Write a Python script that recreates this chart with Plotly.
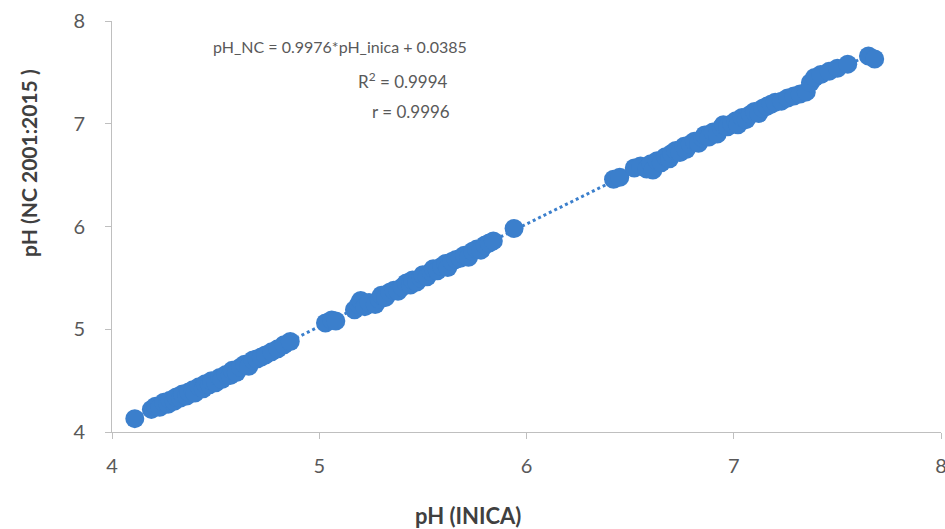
import plotly.graph_objects as go

# pH measured with the INICA method vs the NC 2001:2015 method
ph_inica = [
    4.11, 4.19, 4.21, 4.23, 4.25, 4.27, 4.28, 4.30, 4.31, 4.33, 4.34, 4.36, 4.37, 4.39, 4.40,
    4.42, 4.44, 4.45, 4.47, 4.48, 4.50, 4.52, 4.53, 4.55, 4.57, 4.58, 4.60, 4.62, 4.64, 4.66,
    4.68, 4.70, 4.72, 4.74, 4.77, 4.80, 4.83, 4.86,
    5.03, 5.06, 5.08,
    5.17, 5.19, 5.20, 5.22, 5.24, 5.27, 5.29, 5.30, 5.32, 5.34, 5.36, 5.38, 5.40, 5.42, 5.44,
    5.45, 5.47, 5.49, 5.50, 5.52, 5.54, 5.55, 5.57, 5.59, 5.61, 5.62, 5.64, 5.66, 5.68, 5.70,
    5.72, 5.74, 5.76, 5.78, 5.80, 5.82, 5.84,
    5.94,
    6.42, 6.45,
    6.52, 6.55, 6.58, 6.60, 6.61, 6.63, 6.65, 6.67, 6.69, 6.70, 6.72, 6.74, 6.76, 6.77, 6.79,
    6.81, 6.83, 6.85, 6.86, 6.88, 6.90, 6.92, 6.94, 6.95, 6.97, 6.99, 7.01, 7.02, 7.04, 7.06,
    7.08, 7.10, 7.12, 7.14, 7.16, 7.18, 7.20, 7.23, 7.26, 7.29, 7.32, 7.35, 7.37, 7.39, 7.42,
    7.46, 7.50, 7.55,
    7.65, 7.68,
]
ph_nc = [
    4.13, 4.22, 4.25, 4.24, 4.29, 4.27, 4.31, 4.30, 4.34, 4.33, 4.37, 4.35, 4.39, 4.41, 4.38,
    4.44, 4.42, 4.47, 4.46, 4.50, 4.48, 4.53, 4.51, 4.56, 4.55, 4.60, 4.58, 4.63, 4.66, 4.64,
    4.70, 4.71, 4.73, 4.75, 4.78, 4.81, 4.85, 4.88,
    5.06, 5.09, 5.08,
    5.19, 5.24, 5.28, 5.22, 5.26, 5.24, 5.29, 5.33, 5.31, 5.36, 5.38, 5.37, 5.41, 5.45, 5.43,
    5.48, 5.46, 5.50, 5.53, 5.51, 5.56, 5.59, 5.57, 5.61, 5.64, 5.60, 5.66, 5.68, 5.69, 5.72,
    5.70, 5.76, 5.78, 5.77, 5.82, 5.84, 5.86,
    5.98,
    6.46, 6.48,
    6.57, 6.59, 6.56, 6.61, 6.55, 6.64, 6.62, 6.68, 6.66, 6.71, 6.74, 6.72, 6.78, 6.75, 6.80,
    6.83, 6.81, 6.86, 6.89, 6.87, 6.92, 6.90, 6.96, 6.99, 6.97, 7.00, 7.03, 6.99, 7.06, 7.04,
    7.09, 7.12, 7.10, 7.15, 7.17, 7.19, 7.21, 7.22, 7.25, 7.27, 7.29, 7.31, 7.40, 7.45, 7.48,
    7.51, 7.54, 7.58,
    7.66, 7.63,
]

slope = 0.9976
intercept = 0.0385

blue = "#3b7fcc"
axis_grey = "#bfbfbf"
tick_font = dict(family="Lato", size=20, color="#595959")

fig = go.Figure()

# linear trendline over the data range
x_fit = [min(ph_inica), max(ph_inica)]
y_fit = [slope * v + intercept for v in x_fit]
fig.add_trace(go.Scatter(x=x_fit, y=y_fit, mode="lines",
                         line=dict(color=blue, width=3, dash="dot"), hoverinfo="skip"))

fig.add_trace(go.Scatter(x=ph_inica, y=ph_nc, mode="markers",
                         marker=dict(color=blue, size=19, line=dict(width=0))))

fig.update_xaxes(range=[4, 8], dtick=1, showgrid=False, zeroline=False,
                 showline=True, linecolor=axis_grey, linewidth=1,
                 ticks="outside", ticklen=6, tickcolor=axis_grey,
                 tickfont=tick_font, ticklabelstandoff=10,
                 ticklabeloverflow="allow", automargin=False)
fig.update_yaxes(range=[4, 8], dtick=1, showgrid=False, zeroline=False,
                 showline=True, linecolor=axis_grey, linewidth=1,
                 ticks="outside", ticklen=6, tickcolor=axis_grey,
                 tickfont=tick_font, ticklabelstandoff=16,
                 ticklabeloverflow="allow", automargin=False)

eq_font = dict(family="Lato", size=16, color="#595959")
eq_font_big = dict(family="Lato", size=17, color="#595959")

fig.add_annotation(text=f"pH_NC = {slope}*pH_inica + {intercept}", x=0.275, y=0.937,
                   xanchor="center", yanchor="middle",
                   xref="paper", yref="paper", showarrow=False, font=eq_font)
fig.add_annotation(text="R<sup>2</sup> = 0.9994", x=0.351, y=0.856,
                   xanchor="center", yanchor="middle",
                   xref="paper", yref="paper", showarrow=False, font=eq_font_big)
fig.add_annotation(text="r = 0.9996", x=0.361, y=0.779,
                   xanchor="center", yanchor="middle",
                   xref="paper", yref="paper", showarrow=False, font=eq_font_big)

fig.add_annotation(text="<b>pH (INICA)</b>", x=0.429, y=-0.202,
                   xanchor="center", yanchor="middle",
                   xref="paper", yref="paper", showarrow=False,
                   font=dict(family="Lato", size=22, color="#404040"))
fig.add_annotation(text="<b>pH (NC 2001:2015 )</b>", x=-0.1, y=0.655, textangle=-90,
                   xanchor="center", yanchor="middle",
                   xref="paper", yref="paper", showarrow=False,
                   font=dict(family="Lato", size=21, color="#404040"))

fig.update_layout(width=945, height=529, showlegend=False,
                  plot_bgcolor="white", paper_bgcolor="white",
                  margin=dict(l=112, r=4, t=21, b=97))

# drop the default 8px page margin so the figure fills the window exactly
fig.write_html("out.html", config={"displayModeBar": False},
               post_script="document.body.style.margin='0';")
